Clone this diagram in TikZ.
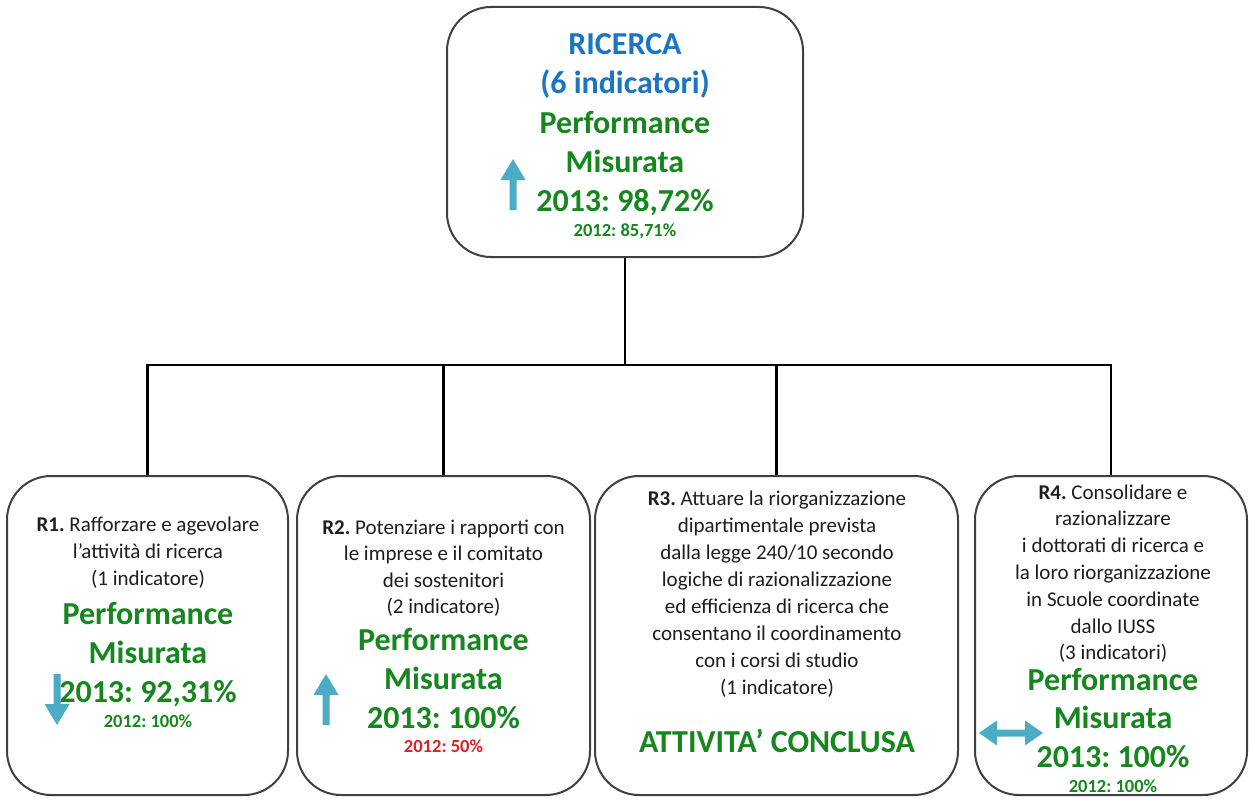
\documentclass[tikz,border=0pt]{standalone}
\usepackage{fontspec}
\setmainfont{Carlito}
\frenchspacing
\definecolor{titleblue}{RGB}{28,117,196}
\definecolor{okgreen}{RGB}{22,134,30}
\definecolor{lowred}{RGB}{224,32,40}
\definecolor{trendblue}{RGB}{75,172,198}
\definecolor{framegray}{RGB}{64,64,64}
\definecolor{inkblack}{RGB}{30,30,30}
\tikzset{
  frame/.style={draw=framegray, line width=2pt, rounded corners=44pt, fill=white,
                inner sep=0pt},
  link/.style={draw=black, line width=2.8pt},
  desc/.style={font=\fontsize{21}{26}\selectfont, text=inkblack, inner sep=0pt, anchor=base},
  perf/.style={font=\fontsize{32}{39}\selectfont\bfseries, text=okgreen, inner sep=0pt, anchor=base},
  head/.style={font=\fontsize{32}{39}\selectfont\bfseries, text=titleblue, inner sep=0pt, anchor=base},
  prev/.style={font=\fontsize{18.5}{22}\selectfont\bfseries, text=okgreen, inner sep=0pt, anchor=base},
  trend/.pic={\fill[trendblue] (0,-26) -- (12.5,-5) -- (3.5,-5) -- (3.5,25) -- (-3.5,25)
               -- (-3.5,-5) -- (-12.5,-5) -- cycle;},
  trendflat/.pic={\fill[trendblue] (-32,0) -- (-14,-12.5) -- (-14,-3.5) -- (14,-3.5) -- (14,-12.5)
               -- (32,0) -- (14,12.5) -- (14,3.5) -- (-14,3.5) -- (-14,12.5) -- cycle;}
}
\begin{document}
\begin{tikzpicture}[x=1pt,y=-1pt]
\useasboundingbox (0,0) rectangle (1254,800);

% boxes
\node[frame, minimum width=356pt, minimum height=250pt] (top) at (625,132) {};
\node[frame, minimum width=281pt, minimum height=319pt] (r1) at (147.5,635.5) {};
\node[frame, minimum width=293pt, minimum height=319pt] (r2) at (443.5,635.5) {};
\node[frame, minimum width=363pt, minimum height=319pt] (r3) at (776.5,635.5) {};
\node[frame, minimum width=272pt, minimum height=319pt] (r4) at (1111,635.5) {};

% tree connectors
\coordinate (bus) at (625,365);
\draw[link] (top.south) -- (bus);
\foreach \b in {r1,r2,r3,r4} \draw[link] (bus) -| (\b.north);

% top box
\node[head] (t1) at (625,55) {RICERCA};
\node[head] (t2) at (625,94) {(6 indicatori)};
\node[perf] (t3) at (625,133) {Performance};
\node[perf] (t4) at (625,172) {Misurata};
\node[perf] (t5) at (625,211) {2013: 98,72\%};
\node[prev] (t6) at (625,236) {2012: 85,71\%};
\pic at (513,185) {trend};

% R1
\foreach \txt [count=\i] in {{\textbf{R1.} Rafforzare e agevolare},{l’attività di ricerca},{(1 indicatore)}}
  \node[desc] (r1d\i) at (148,{531+(\i-1)*27}) {\txt};
\foreach \txt [count=\i] in {{Performance},{Misurata},{2013: 92,31\%}}
  \node[perf] (r1p\i) at (148,{624+(\i-1)*39}) {\txt};
\node[prev] (r1o) at (148,727) {2012: 100\%};
\pic[rotate=180] at (57,699) {trend};

% R2
\foreach \txt [count=\i] in {{\textbf{R2.} Potenziare i rapporti con},{le imprese e il comitato},{dei sostenitori},{(2 indicatore)}}
  \node[desc] (r2d\i) at (443.5,{534+(\i-1)*26.5}) {\txt};
\foreach \txt [count=\i] in {{Performance},{Misurata},{2013: 100\%}}
  \node[perf] (r2p\i) at (443.5,{650+(\i-1)*39}) {\txt};
\node[prev, text=lowred] (r2o) at (443.5,752) {2012: 50\%};
\pic at (326,700) {trend};

% R3
\foreach \txt [count=\i] in {{\textbf{R3.} Attuare la riorganizzazione},{dipartimentale prevista},{dalla legge 240/10 secondo},{logiche di razionalizzazione},{ed efficienza di ricerca che},{consentano il coordinamento},{con i corsi di studio},{(1 indicatore)}}
  \node[desc] (r3d\i) at (777,{505+(\i-1)*27}) {\txt};
\node[perf] (r3p) at (777,752) {ATTIVITA’ CONCLUSA};

% R4
\foreach \txt [count=\i] in {{\textbf{R4.} Consolidare e},{razionalizzare},{i dottorati di ricerca e},{la loro riorganizzazione},{in Scuole coordinate},{dallo IUSS},{(3 indicatori)}}
  \node[desc] (r4d\i) at (1113,{499+(\i-1)*26.8}) {\txt};
\foreach \txt [count=\i] in {{Performance},{Misurata},{2013: 100\%}}
  \node[perf] (r4p\i) at (1113,{690+(\i-1)*38.5}) {\txt};
\node[prev] (r4o) at (1113,792) {2012: 100\%};
\pic at (1011,733) {trendflat};
\end{tikzpicture}
\end{document}
